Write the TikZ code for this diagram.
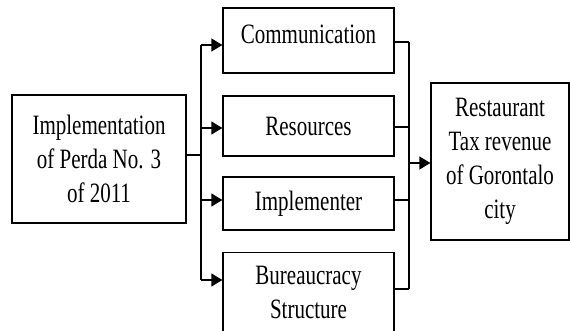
\documentclass[tikz,border=0pt]{standalone}
\usepackage{fontspec}
\setmainfont[FakeStretch=0.75]{Liberation Serif}
\usetikzlibrary{arrows.meta}
\begin{document}
\fontsize{28}{34}\selectfont
\begin{tikzpicture}[x=1pt, y=-1pt,
  box/.style={shape=rectangle, draw, line width=1.3pt, align=center, inner sep=0pt, minimum width=#1},
  link/.style={line width=1.3pt},
  arr/.style={line width=1.3pt, -{Triangle[length=11pt, width=13pt]}}]
\useasboundingbox (0,0) rectangle (570,331);
\clip (0,0) rectangle (570,331);
\node[box=174pt, minimum height=128pt] (L) at (99, 159) {Implementation\\of Perda No. 3\\of 2011};
\node[box=171pt, minimum height=65pt, text depth=12pt] (C1) at (308.5, 40.5) {Communication};
\node[box=171pt, minimum height=60pt] (C2) at (308.5, 126) {Resources};
\node[box=171pt, minimum height=53pt] (C3) at (308.5, 203.5) {Implementer};
\node[box=171pt, inner ysep=14pt, anchor=north] (C4) at (308.5, 252) {Bureaucracy\\Structure};
\node[box=138pt, minimum height=157pt] (R) at (500, 161.5) {Restaurant\\Tax revenue\\of Gorontalo\\city};
\coordinate (jL) at (201, 155);
\coordinate (s1) at (201, 45);
\coordinate (s2) at (201, 128);
\coordinate (s3) at (201, 200);
\coordinate (s4) at (201, 280);
\coordinate (t1) at (409, 42);
\coordinate (t2) at (409, 127);
\coordinate (t3) at (409, 200);
\coordinate (t4) at (409, 289);
\coordinate (jR) at (409, 163);
\draw[link] (L.east |- jL) -- (jL);
\draw[link] (s1) -- (s4);
\draw[arr] (s1) -- (C1.west |- s1);
\draw[arr] (s2) -- (C2.west |- s2);
\draw[arr] (s3) -- (C3.west |- s3);
\draw[arr] (s4) -- (C4.west |- s4);
\draw[link] (C1.east |- t1) -- (t1);
\draw[link] (C2.east |- t2) -- (t2);
\draw[link] (C3.east |- t3) -- (t3);
\draw[link] (C4.east |- t4) -- (t4);
\draw[link] (t1) -- (t4);
\draw[arr] (jR) -- (R.west |- jR);
\end{tikzpicture}
\end{document}
